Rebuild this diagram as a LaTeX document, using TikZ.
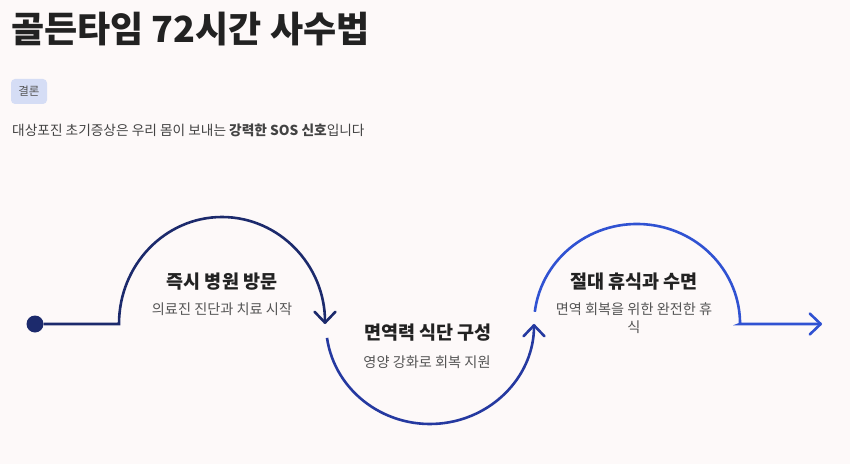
\documentclass[tikz,border=0pt]{standalone}
\usepackage{fontspec}
\setmainfont{Noto Sans CJK KR}
\usetikzlibrary{arrows.meta}
\definecolor{bg}{HTML}{FDF9F9}
\definecolor{navy}{HTML}{1C2A6C}
\definecolor{midblue}{HTML}{2539A0}
\definecolor{brightblue}{HTML}{3052D2}
\definecolor{tagfill}{HTML}{D5DDF5}
\definecolor{ink}{HTML}{222222}
\definecolor{muted}{HTML}{555555}

\begin{document}
\begin{tikzpicture}[x=1pt,y=1pt,
    flow/.style={line width=2.6pt,-{Straight Barb[length=11pt,width=21pt,round]}},
    head/.style={font=\bfseries\fontsize{18.5}{22}\selectfont,text=ink,inner sep=0pt},
    note/.style={font=\fontsize{14.2}{18}\selectfont,text=muted,align=center,inner sep=0pt}]
  \fill[bg] (0,0) rectangle (850,464);
  \useasboundingbox (0,0) rectangle (850,464);

  \node[anchor=west,inner sep=0pt,font=\bfseries\fontsize{36}{40}\selectfont,text=ink] (title) at (11,435) {골든타임 72시간 사수법};
  \node[fill=tagfill,rounded corners=4pt,minimum width=36pt,minimum height=25pt,inner sep=0pt,
        font=\fontsize{11.5}{13}\selectfont,text=muted] (tag) at (29,372.5) {결론};
  \node[anchor=west,inner sep=0pt,font=\fontsize{13.7}{16}\selectfont,text=ink!85] (lead) at (12,334)
        {대상포진 초기증상은 우리 몸이 보내는 \textbf{강력한 SOS 신호}입니다};

  \node[circle,fill=navy,minimum size=17pt,inner sep=0pt] (start) at (35,140) {};
  \coordinate (a1) at (119,140);
  \coordinate (b1) at (327,126.1);
  \coordinate (c1) at (534.8,152.2);
  \coordinate (c2) at (740,140);
  \coordinate (end) at (822,140);

  \node[head] (visit) at (222,182) {즉시 병원 방문};
  \node[note] (visitnote) at (222,155) {의료진 진단과 치료 시작};
  \node[head] (diet) at (428,131) {면역력 식단 구성};
  \node[note] (dietnote) at (427,102) {영양 강화로 회복 지원};
  \node[head] (rest) at (634,182) {절대 휴식과 수면};
  \node[note] (restnote) at (634,146) {면역 회복을 위한 완전한 휴\\식};

  \draw[flow,navy] (start) -- (a1) arc[start angle=180,end angle=0,x radius=103,y radius=107];
  \draw[flow,midblue] (b1) arc[start angle=188,end angle=360,x radius=104,y radius=100];
  \draw[flow,brightblue] (c1) arc[start angle=173,end angle=0,x radius=103,y radius=100] -- (c2) -- (end);
\end{tikzpicture}
\end{document}
